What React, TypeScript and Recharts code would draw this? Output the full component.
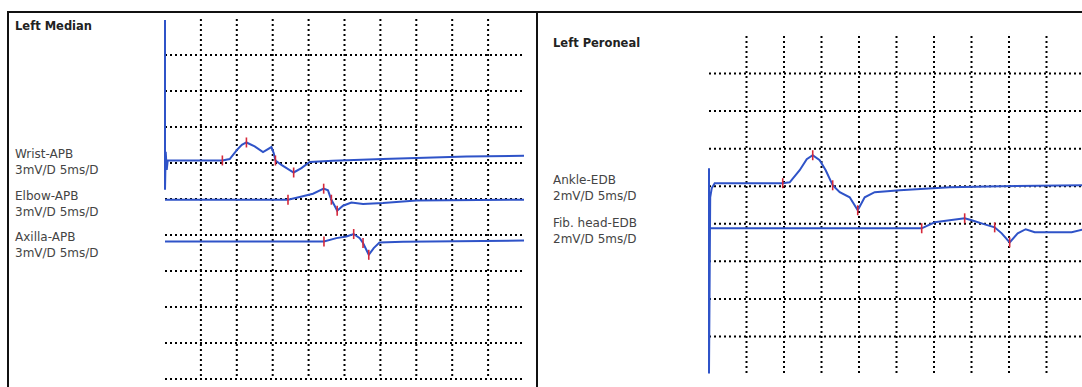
import { ComposedChart, Line, Scatter, XAxis, YAxis, CartesianGrid } from "recharts"

type Pt = [number, number]

// time in ms, amplitude in mV (relative to each trace's baseline)
const wristApb: Pt[] = [
  [0, 11.7], [0, -2.44], [0.1, 0.73], [0.24, -0.78], [0.38, 0], [7.99, 0], [9.01, 0.12],
  [10.03, 0.89], [10.7, 1.3], [11.34, 1.5], [12.49, 1.17], [13.65, 0.7], [14.82, 1.12],
  [15.14, 0.62], [15.38, 0], [16.21, -0.36], [17.92, -1.0], [19.0, -0.63], [20.15, -0.13],
  [23.36, -0.03], [30.32, 0.12], [35.01, 0.2], [41.98, 0.33], [50, 0.39],
]
const wristMarks: Pt[] = [[7.99, 0], [11.34, 1.5], [15.38, 0], [17.92, -1.0]]

const elbowApb: Pt[] = [
  [0, 0], [17.13, 0], [18.76, 0.23], [20.61, 0.5], [22.1, 0.92], [22.7, 0.78], [23.17, 0],
  [23.63, -0.5], [23.98, -0.92], [24.79, -0.5], [25.96, -0.23], [27.58, -0.35], [30.36, -0.28],
  [35.01, -0.06], [50, 0],
]
const elbowMarks: Pt[] = [[17.13, 0], [22.1, 0.92], [23.17, 0], [23.98, -0.92]]

const axillaApb: Pt[] = [
  [0, 0], [22.14, 0], [23.87, 0.28], [25.26, 0.42], [26.28, 0.62], [27.12, 0.28], [27.58, -0.13],
  [28.38, -1.11], [29.07, -0.55], [29.87, -0.08], [33.15, -0.03], [50, 0.08],
]
const axillaMarks: Pt[] = [[22.14, 0], [26.28, 0.62], [27.58, -0.13], [28.38, -1.11]]

const ankleEdb: Pt[] = [
  [0, 0.8], [0, -10.13], [0.16, -0.75], [0.36, -0.27], [0.76, 0], [9.83, 0], [10.76, 0.05],
  [12.09, 0.69], [13.03, 1.28], [13.83, 1.49], [14.76, 1.23], [15.56, 0.69], [16.49, -0.11],
  [17.43, -0.48], [18.76, -0.75], [19.83, -1.44], [20.76, -0.75], [22.09, -0.48], [25.43, -0.37],
  [32.09, -0.21], [38.76, -0.16], [50, -0.11],
]
const ankleMarks: Pt[] = [[9.83, 0], [13.83, 1.49], [16.49, -0.11], [19.83, -1.44]]

const fibHeadEdb: Pt[] = [
  [0, 0], [28.36, 0], [30.09, 0.32], [32.09, 0.43], [34.09, 0.53], [35.03, 0.43], [36.76, 0.21],
  [38.09, 0.05], [39.03, -0.27], [40.09, -0.75], [41.16, -0.27], [42.23, -0.05], [43.43, -0.21],
  [48.36, -0.21], [50, -0.05],
]
const fibHeadMarks: Pt[] = [[28.36, 0], [34.09, 0.53], [38.09, 0.05], [40.09, -0.75]]

const timeTicks = [5, 10, 15, 20, 25, 30, 35, 40, 45]
// grid rows, counted in divisions from the top
const medianDivTicks = [1, 2, 3, 4, 5, 6, 7, 8, 9, 10]
const peronealDivTicks = [1, 2, 3, 4, 5, 6, 7, 8]

// baseline position of each trace, in divisions from the top of the grid
const medianBaseDiv = [3.93, 5.02, 6.18]
const peronealBaseDiv = [3.92, 5.12]

const medianLabels = [
  ["Wrist-APB", "3mV/D 5ms/D"],
  ["Elbow-APB", "3mV/D 5ms/D"],
  ["Axilla-APB", "3mV/D 5ms/D"],
]
const peronealLabels = [
  ["Ankle-EDB", "2mV/D 5ms/D"],
  ["Fib. head-EDB", "2mV/D 5ms/D"],
]

const BLUE = "#2f53c8"
const RED = "#d6283a"
const FONT = "'DejaVu Sans', Verdana, sans-serif"

const rows = (pts: Pt[]) => pts.map(([t, v]) => ({ t, v }))

const MarkTick = (props: any) => {
  const { cx, cy } = props
  if (cx == null || cy == null) return <g />
  return <line x1={cx} x2={cx} y1={cy - 5} y2={cy + 5} stroke={RED} strokeWidth={1.6} />
}

function TracePanel(props: {
  left: number
  top: number
  width: number
  height: number
  divs: number
  sens: number
  baseDiv: number[]
  gridTicks: number[]
  traces: Pt[][]
  marks: Pt[][]
}) {
  const { left, top, width, height, divs, sens, baseDiv, gridTicks, traces, marks } = props
  const m = 4
  const vPoints = timeTicks.map((t) => m + (t / 50) * width)
  const hPoints = gridTicks.map((d) => m + (d / divs) * height)
  return (
    <div style={{ position: "absolute", left: left - m, top: top - m }}>
      <ComposedChart width={width + 2 * m} height={height + 2 * m} margin={{ top: m, right: m, bottom: m, left: m }}>
        <XAxis type="number" dataKey="t" domain={[0, 50]} ticks={timeTicks} hide />
        {traces.map((_, i) => (
          <YAxis
            key={i}
            yAxisId={`tr${i}`}
            type="number"
            domain={[baseDiv[i] * sens - divs * sens, baseDiv[i] * sens]}
            hide
          />
        ))}
        <CartesianGrid
          yAxisId="tr0"
          verticalPoints={vPoints}
          horizontalPoints={hPoints}
          stroke="#000"
          strokeDasharray="2 3"
          strokeWidth={2}
        />
        {traces.map((tr, i) => (
          <Line
            key={`l${i}`}
            yAxisId={`tr${i}`}
            data={rows(tr)}
            dataKey="v"
            type="linear"
            stroke={BLUE}
            strokeWidth={2}
            dot={false}
            activeDot={false}
            isAnimationActive={false}
          />
        ))}
        {marks.map((mk, i) => (
          <Scatter
            key={`s${i}`}
            yAxisId={`tr${i}`}
            data={rows(mk)}
            dataKey="v"
            shape={MarkTick}
            isAnimationActive={false}
          />
        ))}
      </ComposedChart>
    </div>
  )
}

export default function App() {
  const medianBaselines = [158, 200, 241]
  const peronealBaselines = [184, 227]
  return (
    <div style={{ position: "fixed", left: 0, top: 0, width: 1082, height: 387, overflow: "hidden", background: "#fff" }}>
      <svg width={1082} height={387} style={{ position: "absolute", left: 0, top: 0 }}>
        <line x1={7} x2={1082} y1={12} y2={12} stroke="#111" strokeWidth={2} />
        <line x1={8} x2={8} y1={11} y2={387} stroke="#111" strokeWidth={2} />
        <line x1={537} x2={537} y1={11} y2={387} stroke="#111" strokeWidth={2} />
        <text x={15} y={30} fontFamily={FONT} fontSize={11.5} fontWeight="bold" fill="#222">Left Median</text>
        <text x={553} y={46.5} fontFamily={FONT} fontSize={11.5} fontWeight="bold" fill="#222">Left Peroneal</text>
        {medianLabels.map((l, i) => (
          <g key={i} fontFamily={FONT} fontSize={12} fill="#444">
            <text x={15} y={medianBaselines[i]}>{l[0]}</text>
            <text x={15} y={medianBaselines[i] + 15.5}>{l[1]}</text>
          </g>
        ))}
        {peronealLabels.map((l, i) => (
          <g key={i} fontFamily={FONT} fontSize={12} fill="#444">
            <text x={553} y={peronealBaselines[i]}>{l[0]}</text>
            <text x={553} y={peronealBaselines[i] + 15.5}>{l[1]}</text>
          </g>
        ))}
      </svg>
      <TracePanel
        left={165}
        top={19}
        width={359}
        height={360}
        divs={10}
        sens={3}
        baseDiv={medianBaseDiv}
        gridTicks={medianDivTicks}
        traces={[wristApb, elbowApb, axillaApb]}
        marks={[wristMarks, elbowMarks, axillaMarks]}
      />
      <TracePanel
        left={709}
        top={36}
        width={375}
        height={338}
        divs={9}
        sens={2}
        baseDiv={peronealBaseDiv}
        gridTicks={peronealDivTicks}
        traces={[ankleEdb, fibHeadEdb]}
        marks={[ankleMarks, fibHeadMarks]}
      />
    </div>
  )
}
